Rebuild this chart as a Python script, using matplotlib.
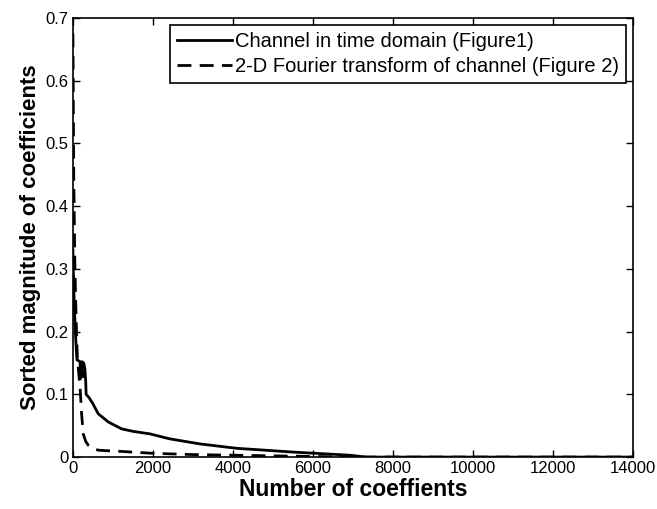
import matplotlib
matplotlib.use("Agg")
import matplotlib.pyplot as plt

plt.rcParams['font.family'] = ['Liberation Sans', 'DejaVu Sans']

time_x = [0, 10, 30, 60, 90, 100, 180, 190, 200, 215, 230, 250, 270, 300, 320, 330, 400, 500,
          633, 883, 1217, 1500, 1925, 2425, 3175, 4090, 5500, 6925, 7330, 14000]
time_y = [0.33, 0.30, 0.25, 0.20, 0.165, 0.155, 0.152, 0.125, 0.15, 0.13, 0.152, 0.128, 0.15, 0.14,
          0.12, 0.10, 0.095, 0.085, 0.069, 0.056, 0.045, 0.041, 0.037, 0.029, 0.021, 0.014,
          0.008, 0.003, 0.0, 0.0]

fourier_x = [0, 20, 50, 80, 110, 150, 180, 217, 258, 320, 383, 500, 633, 900, 1217, 2000,
             3000, 4000, 5000, 6000, 7000, 14000]
fourier_y = [0.675, 0.45, 0.30, 0.22, 0.16, 0.13, 0.11, 0.069, 0.037, 0.025, 0.019, 0.014,
             0.011, 0.010, 0.009, 0.006, 0.004, 0.003, 0.002, 0.001, 0.0, 0.0]

x_ticks = [0, 2000, 4000, 6000, 8000, 10000, 12000, 14000]
y_ticks = [0, 0.1, 0.2, 0.3, 0.4, 0.5, 0.6, 0.7]
y_tick_labels = ['0', '0.1', '0.2', '0.3', '0.4', '0.5', '0.6', '0.7']

fig = plt.figure(figsize=(6.57, 5.09), dpi=100)
ax = fig.add_axes([0.111, 0.102, 0.852, 0.863])

ax.plot(time_x, time_y, color='black', lw=2, label='Channel in time domain (Figure1)')
ax.plot(fourier_x, fourier_y, color='black', lw=2, ls=(0, (5, 3)),
        label='2-D Fourier transform of channel (Figure 2)')

ax.set_xlim(0, 14000)
ax.set_ylim(0, 0.7)
ax.set_xticks(x_ticks)
ax.set_xticklabels([str(v) for v in x_ticks])
ax.set_yticks(y_ticks)
ax.set_yticklabels(y_tick_labels)
ax.tick_params(direction='in', top=True, right=True, labelsize=12, length=5, width=1, pad=3)
for s in ax.spines.values():
    s.set_linewidth(1.2)

ax.set_xlabel('Number of coeffients', fontsize=16.5, fontweight='bold', labelpad=1)
ax.set_ylabel('Sorted magnitude of coefficients', fontsize=16, fontweight='bold', labelpad=3)

leg = ax.legend(loc='upper right', fontsize=14.5, frameon=True, fancybox=False,
                edgecolor='black', framealpha=1, handlelength=2.7, borderpad=0.35,
                labelspacing=0.3, handletextpad=0.15, borderaxespad=0.35)
leg.get_frame().set_linewidth(1.2)

fig.savefig('out.png', dpi=100)
